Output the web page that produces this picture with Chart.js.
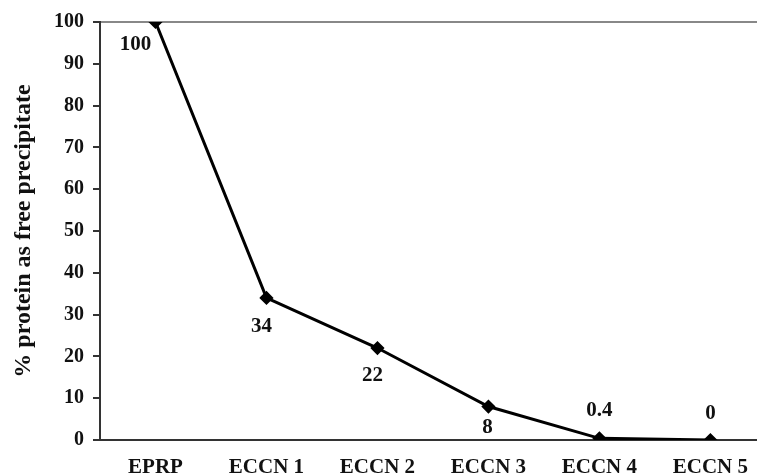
<!DOCTYPE html>
<html>
<head>
<meta charset="utf-8">
<script src="https://cdn.jsdelivr.net/npm/chart.js@4/dist/chart.umd.min.js"></script>
<style>
  body { margin: 0; background: #fff; }
  #wrap { width: 757px; height: 474px; }
</style>
</head>
<body>
<div id="wrap"><canvas id="precipChart"></canvas></div>
<script>
// data
const categories = ['EPRP', 'ECCN 1', 'ECCN 2', 'ECCN 3', 'ECCN 4', 'ECCN 5'];
const precipValues = [100, 34, 22, 8, 0.4, 0];
const pointLabels = ['100', '34', '22', '8', '0.4', '0'];
const yTicks = [0, 10, 20, 30, 40, 50, 60, 70, 80, 90, 100];

const serif = '"Liberation Serif", "Times New Roman", serif';

// value labels next to each point (offsets in px)
const labelOffsets = [[-20, 23], [-5, 29], [-5, 28], [-1, 21], [0, -28], [0, -26]];
const valueLabels = {
  id: 'valueLabels',
  afterDatasetsDraw(chart) {
    const ctx = chart.ctx;
    const meta = chart.getDatasetMeta(0);
    ctx.save();
    ctx.font = 'bold 21px ' + serif;
    ctx.fillStyle = '#111';
    ctx.textAlign = 'center';
    ctx.textBaseline = 'middle';
    meta.data.forEach(function(pt, i) {
      ctx.fillText(pointLabels[i], pt.x + labelOffsets[i][0], pt.y + labelOffsets[i][1]);
    });
    ctx.restore();
  }
};

const ctx = document.getElementById('precipChart').getContext('2d');
const precipChart = new Chart(ctx, {
  type: 'line',
  data: {
    datasets: [{
      label: '% protein as free precipitate',
      data: precipValues.map(function(v, i) { return { x: i, y: v }; }),
      borderColor: '#000',
      backgroundColor: '#000',
      borderWidth: 3,
      tension: 0,
      pointStyle: 'rectRot',
      pointRadius: 5,
      pointHoverRadius: 5
    }]
  },
  options: {
    responsive: true,
    maintainAspectRatio: false,
    animation: false,
    layout: { autoPadding: false, padding: { top: 22, right: 0, left: 0, bottom: 0 } },
    plugins: {
      legend: { display: false },
      tooltip: { enabled: false }
    },
    scales: {
      x: {
        type: 'linear',
        min: -0.5,
        max: 5.42,
        afterFit: function(scale) {
          scale.height = 34;
          scale.paddingLeft = 0;
          scale.paddingRight = 0;
        },
        afterBuildTicks: function(scale) {
          scale.ticks = categories.map(function(c, i) { return { value: i }; });
        },
        ticks: {
          padding: 7,
          color: '#111',
          font: { family: serif, size: 21, weight: 'bold' },
          maxRotation: 0,
          callback: function(value) { return categories[value]; }
        },
        grid: { display: false },
        border: { display: true, color: '#333', width: 2 }
      },
      y: {
        min: 0,
        max: 100,
        afterFit: function(scale) { scale.width = 100; },
        afterBuildTicks: function(scale) {
          scale.ticks = yTicks.map(function(v) { return { value: v }; });
        },
        ticks: {
          padding: 9,
          color: '#111',
          font: { family: serif, size: 20, weight: 'bold' }
        },
        grid: {
          tickLength: 7,
          lineWidth: 2,
          color: function(c) { return c.tick && c.tick.value === 100 ? '#888' : 'rgba(0,0,0,0)'; },
          tickColor: '#333'
        },
        border: { color: '#333', width: 2 },
        title: {
          display: true,
          text: '% protein as free precipitate',
          color: '#111',
          padding: { top: 9, bottom: 0 },
          font: { family: serif, size: 24, weight: 'bold' }
        }
      }
    }
  },
  plugins: [valueLabels]
});
</script>
</body>
</html>
